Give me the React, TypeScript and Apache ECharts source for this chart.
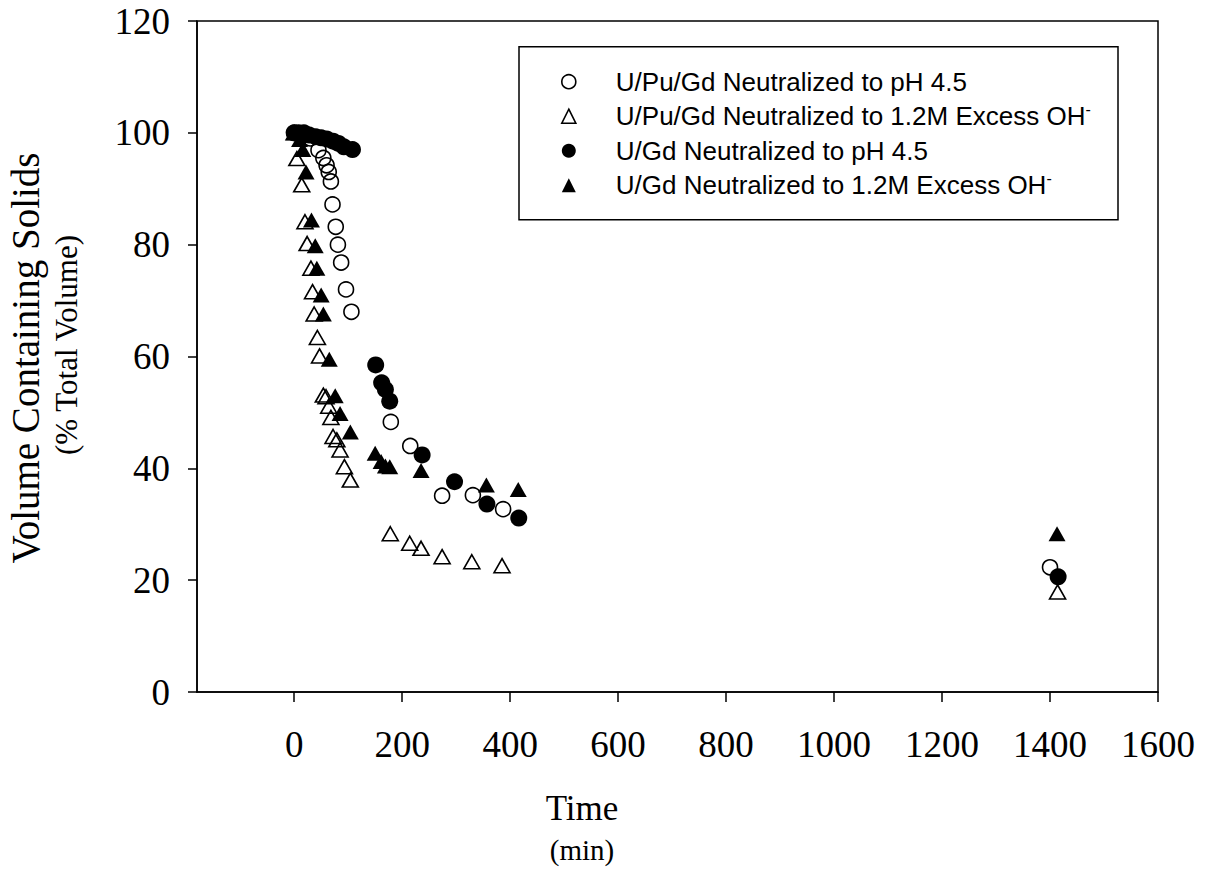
import { useEffect, useRef } from "react";
import * as echarts from "echarts";

// Time (min) and volume containing solids (% of total volume) per run
const puGdPh45Time = [0, 15, 30, 45, 54, 60, 64, 68, 71, 77, 81, 87, 96, 106, 179, 215, 274, 331, 387, 1400];
const puGdPh45Vol = [100, 99.5, 99, 96.9, 95.5, 94.2, 93, 91.3, 87.2, 83.2, 80, 76.8, 72, 68, 48.3, 44, 35.1, 35.2, 32.7, 22.3];

const puGdOhTime = [0, 5, 14, 20, 24, 31, 34, 37, 43, 47, 54, 59, 64, 68, 72, 79, 85, 93, 104, 178, 214, 235, 274, 329, 385, 1414];
const puGdOhVol = [100, 95.4, 90.7, 84.1, 80.2, 75.8, 71.6, 67.6, 63.4, 60.1, 53.1, 52.8, 51.1, 49.1, 45.7, 45.1, 43.3, 40.3, 37.9, 28.3, 26.6, 25.7, 24.2, 23.3, 22.6, 17.9];

const gdPh45Time = [0, 8, 18, 28, 40, 50, 60, 72, 82, 92, 108, 151, 162, 169, 177, 237, 297, 357, 416, 1415];
const gdPh45Vol = [100, 100, 100, 99.6, 99.3, 99.1, 98.9, 98.5, 98.1, 97.5, 97, 58.5, 55.3, 54.1, 52, 42.4, 37.6, 33.6, 31.1, 20.6];

const gdOhTime = [0, 10, 16, 22, 32, 39, 42, 50, 54, 65, 76, 85, 104, 150, 161, 169, 177, 235, 356, 415, 1413];
const gdOhVol = [100, 98.8, 97, 93, 84.4, 79.8, 75.8, 71, 67.6, 59.5, 53, 49.8, 46.5, 42.7, 41.2, 40.4, 40.3, 39.6, 37, 36.2, 28.3];

const xTickValues = [0, 200, 400, 600, 800, 1000, 1200, 1400, 1600];

const seriesNames = [
  "U/Pu/Gd Neutralized to pH 4.5",
  "U/Pu/Gd Neutralized to 1.2M Excess OH",
  "U/Gd Neutralized to pH 4.5",
  "U/Gd Neutralized to 1.2M Excess OH",
];

const SERIF = "'Liberation Serif', 'Times New Roman', serif";
const SANS = "'Liberation Sans', Arial, sans-serif";

const pairs = (xs: number[], ys: number[]) => xs.map((x, i) => [x, ys[i]]);

export default function App() {
  const ref = useRef<HTMLDivElement>(null);

  useEffect(() => {
    const chart = echarts.init(ref.current!, null, { renderer: "svg" });

    const openStyle = { color: "rgba(0,0,0,0)", borderColor: "#000", borderWidth: 1.6, opacity: 1 };
    const filledStyle = { color: "#000", borderColor: "#000", borderWidth: 0, opacity: 1 };

    chart.setOption({
      animation: false,
      backgroundColor: "#fff",
      grid: {
        left: 197,
        top: 21,
        right: 48,
        bottom: 182,
        show: true,
        borderColor: "#000",
        borderWidth: 1.5,
        backgroundColor: "transparent",
      },
      xAxis: {
        type: "value",
        min: -180,
        max: 1600,
        axisLine: { show: true, onZero: false, lineStyle: { color: "#000", width: 1.5 } },
        axisTick: { show: true, length: 10, inside: false, customValues: xTickValues, lineStyle: { color: "#000", width: 1.5 } },
        axisLabel: {
          customValues: xTickValues,
          formatter: (v: number) => String(v),
          margin: 34,
          color: "#000",
          fontFamily: SERIF,
          fontSize: 37,
        },
        splitLine: { show: false },
      },
      yAxis: {
        type: "value",
        min: 0,
        max: 120,
        interval: 20,
        axisLine: { show: true, onZero: false, lineStyle: { color: "#000", width: 1.5 } },
        axisTick: { show: true, length: 9, inside: false, lineStyle: { color: "#000", width: 1.5 } },
        axisLabel: {
          formatter: (v: number) => String(v),
          margin: 27,
          color: "#000",
          fontFamily: SERIF,
          fontSize: 37,
        },
        splitLine: { show: false },
      },
      legend: {
        orient: "vertical",
        left: 561,
        top: 66.7,
        padding: 0,
        itemGap: 4.5,
        itemWidth: 14,
        itemHeight: 14,
        selectedMode: false,
        data: [
          { name: seriesNames[0], icon: "circle", itemStyle: openStyle },
          { name: seriesNames[1], icon: "triangle", itemStyle: openStyle },
          { name: seriesNames[2], icon: "circle", itemStyle: filledStyle },
          { name: seriesNames[3], icon: "triangle", itemStyle: filledStyle },
        ],
        formatter: (name: string) =>
          name.endsWith("OH") ? `{gap|}${name}{sup|-}` : `{gap|}${name}`,
        textStyle: {
          fontFamily: SANS,
          fontSize: 26,
          lineHeight: 30,
          color: "#000",
          rich: {
            gap: { width: 35, lineHeight: 30 },
            sup: {
              fontFamily: SANS,
              fontSize: 16,
              lineHeight: 16,
              verticalAlign: "top",
              color: "#000",
            },
          },
        },
      },
      graphic: [
        {
          type: "rect",
          shape: { x: 519, y: 46.7, width: 599, height: 173 },
          style: { fill: "none", stroke: "#000", lineWidth: 1.5 },
          z: 1,
        },
        {
          type: "text",
          x: 25,
          y: 358,
          rotation: Math.PI / 2,
          style: {
            text: "Volume Containing Solids",
            fontFamily: SERIF,
            fontSize: 39,
            fill: "#000",
            align: "center",
            verticalAlign: "middle",
          },
        },
        {
          type: "text",
          x: 66,
          y: 345,
          rotation: Math.PI / 2,
          style: {
            text: "(% Total Volume)",
            fontFamily: SERIF,
            fontSize: 31,
            fill: "#000",
            align: "center",
            verticalAlign: "middle",
          },
        },
        {
          type: "text",
          x: 582,
          y: 808,
          style: {
            text: "Time",
            fontFamily: SERIF,
            fontSize: 35,
            fill: "#000",
            align: "center",
            verticalAlign: "middle",
          },
        },
        {
          type: "text",
          x: 582,
          y: 850,
          style: {
            text: "(min)",
            fontFamily: SERIF,
            fontSize: 29,
            fill: "#000",
            align: "center",
            verticalAlign: "middle",
          },
        },
      ],
      series: [
        {
          name: seriesNames[0],
          type: "scatter",
          symbol: "circle",
          symbolSize: 15,
          itemStyle: openStyle,
          data: pairs(puGdPh45Time, puGdPh45Vol),
          z: 2,
        },
        {
          name: seriesNames[1],
          type: "scatter",
          symbol: "triangle",
          symbolSize: [16, 14],
          itemStyle: openStyle,
          data: pairs(puGdOhTime, puGdOhVol),
          z: 3,
        },
        {
          name: seriesNames[2],
          type: "scatter",
          symbol: "circle",
          symbolSize: 17,
          itemStyle: filledStyle,
          data: pairs(gdPh45Time, gdPh45Vol),
          z: 4,
        },
        {
          name: seriesNames[3],
          type: "scatter",
          symbol: "triangle",
          symbolSize: [17, 15],
          itemStyle: filledStyle,
          data: pairs(gdOhTime, gdOhVol),
          z: 5,
        },
      ],
    });

    return () => chart.dispose();
  }, []);

  return (
    <div
      ref={ref}
      style={{ position: "absolute", left: 0, top: 0, width: 1206, height: 874 }}
    />
  );
}
